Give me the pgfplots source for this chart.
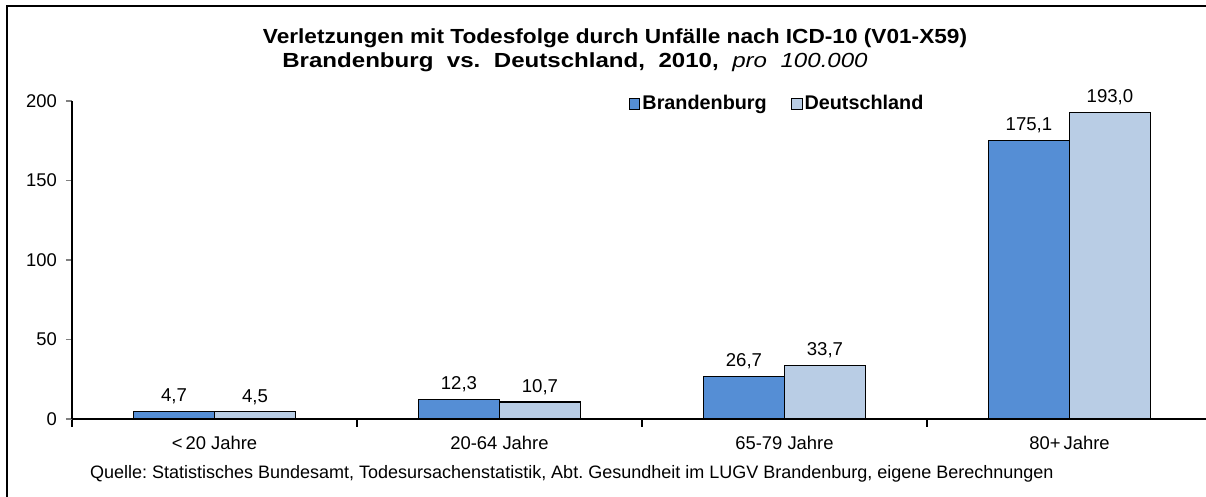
\documentclass[border=0pt]{standalone}
\usepackage{pgfplots}
\pgfplotsset{compat=1.18}
\usepackage{fontspec}
\setmainfont{Liberation Sans}
\definecolor{cBB}{HTML}{558ED5}
\definecolor{cDE}{HTML}{B9CDE5}
\begin{document}
\frenchspacing
\begin{tikzpicture}[x=0.5pt,y=0.5pt]
\useasboundingbox (0,0) rectangle (1206,497);
\fill[white] (0,0) rectangle (1206,497);
\draw[line width=1pt] (7,0) -- (7,491) -- (1206,491);
\begin{axis}[
  at={(36pt,39pt)}, anchor=south west,
  scale only axis, width=567pt, height=159pt,
  xmin=-0.5, xmax=3.479, ymin=0, ymax=200,
  axis x line*=bottom, axis y line*=left,
  axis line style={line width=0.8pt,-},
  ytick={0,50,100,150,200},
  ytick style={line width=0.8pt},
  tick align=outside, major tick length=3pt,
  xtick={0,1,2,3},
  xticklabels={<\,20 Jahre,20-64 Jahre,65-79 Jahre,80+\,Jahre},
  x tick style={draw=none},
  minor xtick={-0.5,0.5,1.5,2.5},
  minor x tick style={line width=0.8pt,draw=black},
  minor tick length=4pt,
  ticklabel style={font=\fontsize{9.2}{11}\selectfont},
  /pgf/number format/assume math mode=true,
  yticklabel style={xshift=-1pt},
  xticklabel style={yshift=-2pt},
  ybar=0pt, bar width=40.5pt,
  nodes near coords,
  nodes near coords style={font=\fontsize{9.3}{11}\selectfont,
    /pgf/number format/.cd, fixed, fixed zerofill, precision=1, use comma, assume math mode=true},
  legend columns=2,
  legend style={draw=none, fill=none, at={(0.6226,0.99)}, anchor=center,
    font=\fontsize{9.9}{11}\selectfont\bfseries,
    /tikz/every even column/.append style={column sep=10pt},
    /tikz/every odd column/.append style={column sep=-1pt}},
  legend image code/.code={\draw[#1,draw=black,line width=0.5pt] (0pt,-2.6pt) rectangle (5.4pt,2.8pt);},
]
\addplot[fill=cBB, draw=black, line width=0.6pt] coordinates {(0,4.7) (1,12.3) (2,26.7) (3,175.1)};
\addplot[fill=cDE, draw=black, line width=0.6pt] coordinates {(0,4.5) (1,10.7) (2,33.7) (3,193.0)};
\legend{Brandenburg,Deutschland}
\end{axis}
\node[font=\fontsize{10.2}{13}\selectfont\bfseries] at (615,459) {\scalebox{1.11}[1]{Verletzungen mit Todesfolge durch Unfälle nach ICD-10 (V01-X59)}};
\node[font=\fontsize{10.2}{13}\selectfont\bfseries] at (575,435) {\scalebox{1.18}[1]{\makebox[248pt][s]{Brandenburg vs. Deutschland, 2010, {\mdseries\itshape pro 100.000}}}};
\node[font=\fontsize{9}{11}\selectfont, anchor=west] at (83,23) {Quelle: Statistisches Bundesamt, Todesursachenstatistik, Abt. Gesundheit im LUGV Brandenburg, eigene Berechnungen};
\end{tikzpicture}
\end{document}
